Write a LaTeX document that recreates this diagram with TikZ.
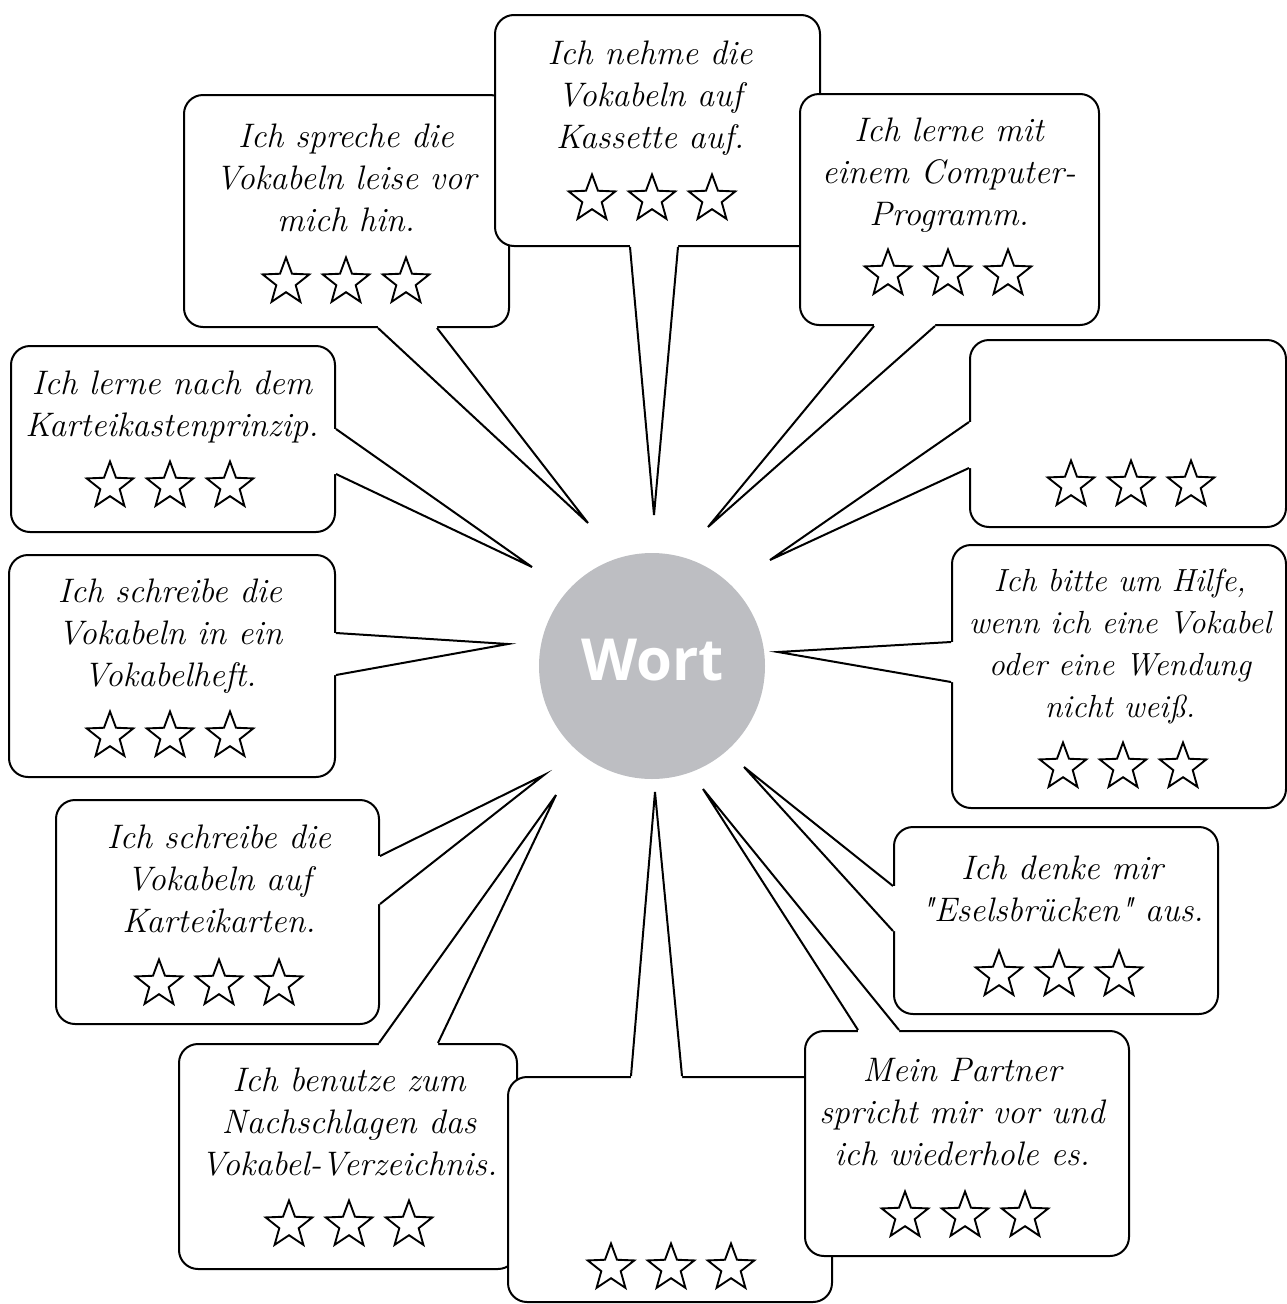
\documentclass[tikz,border=0pt]{standalone}
\usepackage{fontspec}
\usetikzlibrary{shapes.geometric,calc,fit}
\newfontfamily\wortfont{Open Sans}
\definecolor{wortgray}{RGB}{189,190,194}
\font\plainq="[lmroman10-italic.otf]" at 34pt
\newcommand\sq{{\plainq\char"22}}

% speech bubble pointer: base1, base2, tip, shift into the box
\newcommand\spike[4]{%
  \fill[white] ($#1+#4$) -- #1 -- #3 -- #2 -- ($#2+#4$) -- cycle;
  \draw[edge] #1 -- #3 -- #2;}

\begin{document}
\begin{tikzpicture}[x=1pt,y=-1pt,
    edge/.style={line width=2pt,line join=miter},
    bubble/.style={draw,fill=white,line width=2pt,rounded corners=19pt,inner sep=0pt},
    say/.style={font=\itshape\fontsize{34}{42}\selectfont,align=center,anchor=north,inner sep=0pt},
    rate/.style={star,star points=5,star point ratio=2.4,draw,line width=1.9pt,minimum size=49pt,inner sep=0pt}]
  \useasboundingbox (0,0) rectangle (1287,1304);

  \node[circle,fill=wortgray,minimum size=226pt,inner sep=0pt] (wort) at (652,666) {};
  \node[font=\wortfont\bfseries\fontsize{58}{58}\selectfont,text=white,inner sep=0pt] (wort-label) at (653,660) {Wort};

  % spreche
  \node[bubble,fit={(184,95) (509,327)}] (spreche) {};
  \node[say] (spreche-text) at (346,124) {Ich spreche die\\Vokabeln leise vor\\mich hin.};
  \foreach \i in {1,2,3} \node[rate] (spreche-star\i) at (346+60*\i-120,282) {};
  \coordinate (spreche-tip) at (588,523);
  \spike{(378,0 |- spreche.south)}{(437,0 |- spreche.south)}{(spreche-tip)}{(0,-4)}

  % kassette
  \node[bubble,fit={(495,15) (820,246)}] (kassette) {};
  \node[say] (kassette-text) at (650,41) {Ich nehme die\\Vokabeln auf\\Kassette auf.};
  \foreach \i in {1,2,3} \node[rate] (kassette-star\i) at (652+60*\i-120,199) {};
  \coordinate (kassette-tip) at (654,515);
  \spike{(630,0 |- kassette.south)}{(678,0 |- kassette.south)}{(kassette-tip)}{(0,-4)}

  % computer
  \node[bubble,fit={(800,94) (1099,325)}] (computer) {};
  \node[say] (computer-text) at (949,118) {Ich lerne mit\\einem Computer-\\Programm.};
  \foreach \i in {1,2,3} \node[rate] (computer-star\i) at (948+60*\i-120,274) {};
  \coordinate (computer-tip) at (708,527);
  \spike{(874,0 |- computer.south)}{(935,0 |- computer.south)}{(computer-tip)}{(0,-4)}

  % karteikasten
  \node[bubble,fit={(11,346) (335,532)}] (kasten) {};
  \node[say] (kasten-text) at (172,371) {Ich lerne nach dem\\Karteikastenprinzip.};
  \foreach \i in {1,2,3} \node[rate] (kasten-star\i) at (170+60*\i-120,486) {};
  \coordinate (kasten-tip) at (532,567);
  \spike{(kasten.east |- 0,429)}{(kasten.east |- 0,474)}{(kasten-tip)}{(-4,0)}

  % leer oben
  \node[bubble,fit={(970,340) (1286,527)}] (leer1) {};
  \foreach \i in {1,2,3} \node[rate] (leer1-star\i) at (1131+60*\i-120,485) {};
  \coordinate (leer1-tip) at (770,560);
  \spike{(leer1.west |- 0,422)}{(leer1.west |- 0,468)}{(leer1-tip)}{(4,0)}

  % vokabelheft
  \node[bubble,fit={(9,555) (335,777)}] (heft) {};
  \node[say] (heft-text) at (170,579) {Ich schreibe die\\Vokabeln in ein\\Vokabelheft.};
  \foreach \i in {1,2,3} \node[rate] (heft-star\i) at (170+60*\i-120,736) {};
  \coordinate (heft-tip) at (508,644);
  \spike{(heft.east |- 0,633)}{(heft.east |- 0,675)}{(heft-tip)}{(-4,0)}

  % hilfe
  \node[bubble,fit={(952,545) (1286,808)}] (hilfe) {};
  \node[say,font=\itshape\fontsize{32}{42}\selectfont] (hilfe-text) at (1120,569) {Ich bitte um Hilfe,\\wenn ich eine Vokabel\\oder eine Wendung\\nicht weiß.};
  \foreach \i in {1,2,3} \node[rate] (hilfe-star\i) at (1123+60*\i-120,767) {};
  \coordinate (hilfe-tip) at (778,652);
  \spike{(hilfe.west |- 0,642)}{(hilfe.west |- 0,682)}{(hilfe-tip)}{(4,0)}

  % karteikarten
  \node[bubble,fit={(56,800) (379,1024)}] (karten) {};
  \node[say] (karten-text) at (219,825) {Ich schreibe die\\Vokabeln auf\\Karteikarten.};
  \foreach \i in {1,2,3} \node[rate] (karten-star\i) at (219+60*\i-120,984) {};
  \coordinate (karten-tip) at (544,775);
  \spike{(karten.east |- 0,856)}{(karten.east |- 0,904)}{(karten-tip)}{(-4,0)}

  % eselsbruecken
  \node[bubble,fit={(894,827) (1218,1014)}] (esel) {};
  \node[say] (esel-text) at (1062,856) {Ich denke mir\\\sq Eselsbrücken\sq\ aus.};
  \foreach \i in {1,2,3} \node[rate] (esel-star\i) at (1059+60*\i-120,975) {};
  \coordinate (esel-tip) at (744,767);
  \spike{(esel.west |- 0,886)}{(esel.west |- 0,931)}{(esel-tip)}{(4,0)}

  % verzeichnis
  \node[bubble,fit={(179,1044) (517,1269)}] (verz) {};
  \node[say] (verz-text) at (349,1068) {Ich benutze zum\\Nachschlagen das\\Vokabel-Verzeichnis.};
  \foreach \i in {1,2,3} \node[rate] (verz-star\i) at (349+60*\i-120,1225) {};
  \coordinate (verz-tip) at (556,795);
  \spike{(379,0 |- verz.north)}{(438,0 |- verz.north)}{(verz-tip)}{(0,4)}

  % leer unten
  \node[bubble,fit={(508,1077) (832,1302)}] (leer2) {};
  \foreach \i in {1,2,3} \node[rate] (leer2-star\i) at (671+60*\i-120,1268) {};
  \coordinate (leer2-tip) at (655,792);
  \spike{(631,0 |- leer2.north)}{(682,0 |- leer2.north)}{(leer2-tip)}{(0,4)}

  % partner
  \node[bubble,fit={(805,1031) (1129,1256)}] (partner) {};
  \node[say] (partner-text) at (962,1058) {Mein Partner\\spricht mir vor und\\ich wiederhole es.};
  \foreach \i in {1,2,3} \node[rate] (partner-star\i) at (965+60*\i-120,1216) {};
  \coordinate (partner-tip) at (703,789);
  \spike{(858,0 |- partner.north)}{(899,0 |- partner.north)}{(partner-tip)}{(0,4)}
\end{tikzpicture}
\end{document}
